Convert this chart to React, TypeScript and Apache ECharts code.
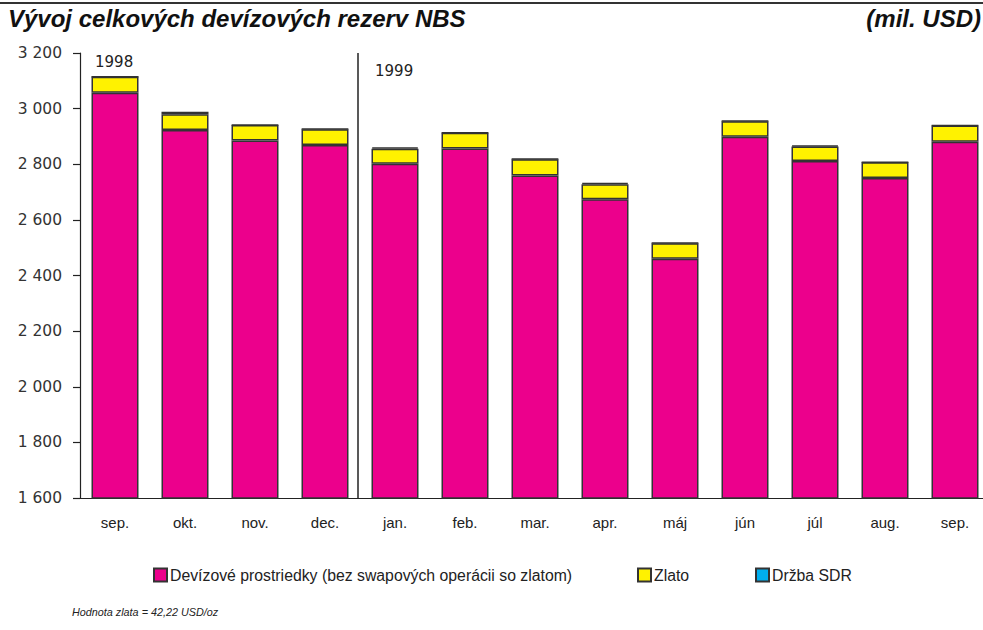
import React, { useEffect, useRef } from "react";
import * as echarts from "echarts";

const categories = ["sep.", "okt.", "nov.", "dec.", "jan.", "feb.", "mar.", "apr.", "máj", "jún", "júl", "aug.", "sep."];
const devizove = [3057, 2923, 2885, 2869, 2802, 2857, 2760, 2674, 2460, 2899, 2812, 2751, 2881];
const zlato = [58, 57, 56, 57, 54, 56, 58, 54, 56, 56, 52, 56, 58];
const sdr = [0, 9, 1, 1, 5, 1, 1, 5, 1, 1, 4, 1, 1];
const yTicks = { min: 1600, max: 3200, interval: 200 };

const seriesNames = ["Devízové prostriedky (bez swapových operácii so zlatom)", "Zlato", "Držba SDR"];
const seriesColors = ["#EC008C", "#FFF200", "#00AEEF"];

const FONT = "'Liberation Sans', Arial, Helvetica, sans-serif";
const NUMFONT = "'DejaVu Sans', 'Liberation Sans', sans-serif";

export default function App() {
  const ref = useRef<HTMLDivElement>(null);
  useEffect(() => {
    if (!ref.current) return;
    const chart = echarts.init(ref.current, undefined, { renderer: "svg" });
    const fmt = (v: number) => String(v).replace(/\B(?=(\d{3})+(?!\d))/g, " ");
    const data = [devizove, zlato, sdr];
    chart.setOption({
      animation: false,
      textStyle: { fontFamily: FONT },
      grid: { left: 80, top: 53, width: 910, bottom: 132, containLabel: false },
      xAxis: {
        type: "category",
        data: categories,
        axisLine: { show: true, lineStyle: { color: "#222", width: 1.2 } },
        axisTick: { show: false },
        axisLabel: { color: "#222", fontSize: 15, margin: 17, fontFamily: FONT },
      },
      yAxis: {
        type: "value",
        min: yTicks.min,
        max: yTicks.max,
        interval: yTicks.interval,
        axisLine: { show: true, lineStyle: { color: "#222", width: 1.2 } },
        axisTick: { show: true, inside: false, length: 7, lineStyle: { color: "#222", width: 1.2 } },
        splitLine: { show: false },
        axisLabel: { color: "#333", fontSize: 15.5, margin: 18, formatter: fmt, fontFamily: NUMFONT },
      },
      legend: seriesNames.map((n, i) => ({
        data: [n],
        left: [148, 632, 750][i],
        top: 562,
        itemWidth: 13,
        itemHeight: 13,
        itemGap: 10,
        icon: "rect",
        textStyle: { fontSize: 15.8, color: "#222", fontFamily: FONT, padding: [0, 0, 0, -2] },
        selectedMode: false,
      })),
      series: seriesNames.map((n, i) => ({
        name: n,
        type: "bar",
        stack: "total",
        barWidth: 47,
        data: data[i],
        itemStyle: { color: seriesColors[i], borderColor: "#333", borderWidth: 1.5 },
      })),
      graphic: [
        { type: "line", shape: { x1: 0, y1: 3, x2: 1000, y2: 3 }, style: { stroke: "#333", lineWidth: 2 } },
        { type: "line", shape: { x1: 358, y1: 53, x2: 358, y2: 498 }, style: { stroke: "#222", lineWidth: 1.5 } },
        {
          type: "text",
          x: 8,
          y: 6,
          style: { text: "Vývoj celkových devízových rezerv NBS", font: `italic bold 24px ${FONT}`, fill: "#111", verticalAlign: "top" },
        },
        {
          type: "text",
          x: 981,
          y: 6,
          style: { text: "(mil. USD)", font: `italic bold 24px ${FONT}`, fill: "#111", align: "right", verticalAlign: "top" },
        },
        { type: "text", x: 95, y: 54, style: { text: "1998", font: `15px ${NUMFONT}`, fill: "#222", verticalAlign: "top" } },
        { type: "text", x: 375, y: 63, style: { text: "1999", font: `15px ${NUMFONT}`, fill: "#222", verticalAlign: "top" } },
        {
          type: "text",
          x: 72,
          y: 606,
          style: { text: "Hodnota zlata = 42,22 USD/oz", font: `italic 10.8px ${FONT}`, fill: "#222", verticalAlign: "top" },
        },
      ],
    });
    return () => chart.dispose();
  }, []);
  return (
    <div style={{ position: "absolute", left: 0, top: 0, width: 983, height: 630, overflow: "hidden", background: "#fff" }}>
      <div ref={ref} style={{ width: 1000, height: 630 }} />
    </div>
  );
}
